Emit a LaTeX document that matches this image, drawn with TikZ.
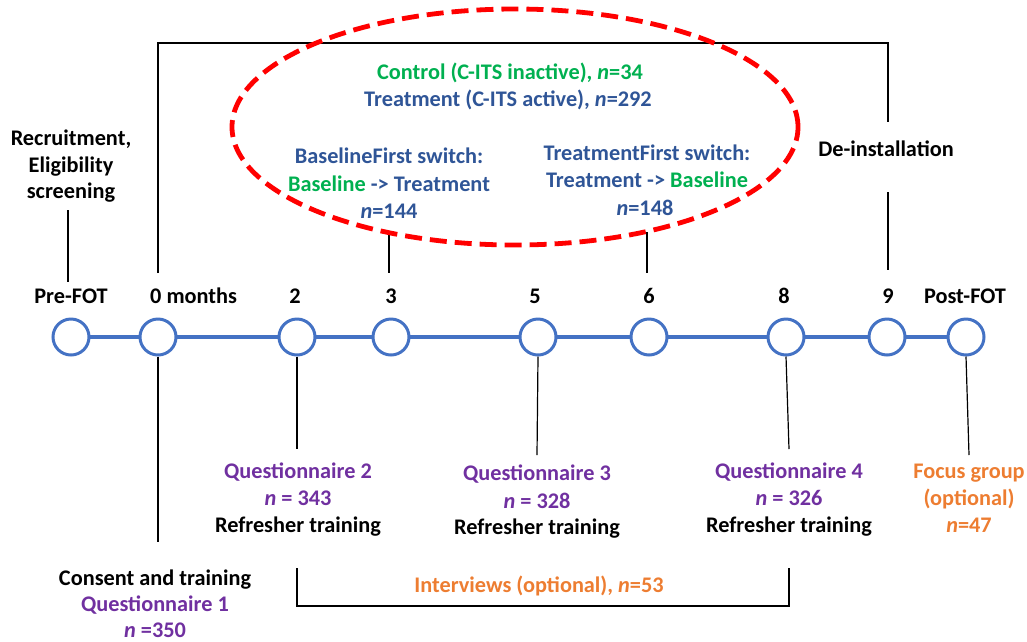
\documentclass[tikz,border=0pt]{standalone}
\usepackage{fontspec}
\setmainfont{Carlito}
\definecolor{tlblue}{HTML}{4472C4}
\definecolor{dkblue}{HTML}{2F5597}
\definecolor{grn}{HTML}{00B050}
\definecolor{purp}{HTML}{7030A0}
\definecolor{orng}{HTML}{ED7D31}
\begin{document}
\begin{tikzpicture}[x=1pt,y=-1pt,
  every node/.style={font=\fontsize{22.3}{27}\selectfont\bfseries},
  t/.style={anchor=base, inner sep=0pt},
  tp/.style={circle, draw=tlblue, line width=3pt, minimum size=36pt, inner sep=0pt, fill=white},
  ln/.style={line width=1.2pt, black},
  tl/.style={tlblue, line width=3.4pt}]
\useasboundingbox (0,0) rectangle (1027,641);

% ---- top bracket
\coordinate (b0) at (158,273);
\coordinate (b1) at (158,43);
\coordinate (b2) at (888,43);
\coordinate (b3) at (888,122);
\coordinate (b4) at (888,192);
\coordinate (b5) at (888,270);
\draw[ln] (b0) -- (b1) -- (b2) -- (b3);
\draw[ln] (b4) -- (b5);

% ---- ticks from switch texts
\coordinate (s3a) at (389,232);
\coordinate (s3b) at (389,273);
\coordinate (s6a) at (647,232);
\coordinate (s6b) at (647,273);
\draw[ln] (s3a) -- (s3b);
\draw[ln] (s6a) -- (s6b);

% ---- recruitment
\node[t] (r1) at (71,145) {Recruitment,};
\node[t] (r2) at (71,172) {Eligibility};
\node[t] (r3) at (71,198) {screening};
\coordinate (ra) at (68,210);
\coordinate (rb) at (68,282);
\draw[ln] (ra) -- (rb);

% ---- dashed ellipse
\draw[red, line width=4.8pt, dash pattern=on 17pt off 8pt] (515,127) ellipse [x radius=283pt, y radius=118pt];

% ---- ellipse texts
\node[t, text=grn] (ctl) at (510,79) {Control (C-ITS inactive), \textit{n}=34};
\node[t, text=dkblue] (trt) at (508,106) {Treatment (C-ITS active), \textit{n}=292};
\node[t, text=dkblue] (bf1) at (389,163) {BaselineFirst switch:};
\node[t, text=dkblue] (bf2) at (389,191) {\textcolor{grn}{Baseline} -> Treatment};
\node[t, text=dkblue] (bf3) at (389,218) {\textit{n}=144};
\node[t, text=dkblue] (tf1) at (647,160) {TreatmentFirst switch:};
\node[t, text=dkblue] (tf2) at (647,187) {Treatment -> \textcolor{grn}{Baseline}};
\node[t, text=dkblue] (tf3) at (645,215) {\textit{n}=148};

\node[t] (deinst) at (886,156) {De-installation};

% ---- timeline
\draw[tl] (60,337) -- (980,337);
\node[tp] (pre) at (71,337) {};
\node[tp] (m0) at (158,337) {};
\node[tp] (m2) at (297,337) {};
\node[tp] (m3) at (391,337) {};
\node[tp] (m5) at (538,337) {};
\node[tp] (m6) at (649,337) {};
\node[tp] (m8) at (786,337) {};
\node[tp] (m9) at (887,337) {};
\node[tp] (post) at (966,337) {};

\node[t] (lpre) at (71,303) {Pre-FOT};
\node[t, anchor=base west] (lm0) at (150,303) {0 months};
\node[t] (lm2) at (295,303) {2};
\node[t] (lm3) at (391,303) {3};
\node[t] (lm5) at (535,303) {5};
\node[t] (lm6) at (649,303) {6};
\node[t] (lm8) at (784,303) {8};
\node[t] (lm9) at (888,303) {9};
\node[t] (lpost) at (965,303) {Post-FOT};

% ---- lower connectors
\coordinate (d0) at (158,542);
\coordinate (d2) at (297,449);
\coordinate (d5) at (537,455);
\coordinate (d8) at (789,449);
\coordinate (dp) at (969,455);
\draw[ln] (m0.south) -- (d0);
\draw[ln] (m2.south) -- (d2);
\draw[ln] (m5.south) -- (d5);
\draw[ln] (m8.south) -- (d8);
\draw[ln] (post.south) -- (dp);

% ---- lower texts
\node[t, text=purp] (q2a) at (298,478) {Questionnaire 2};
\node[t, text=purp] (q2b) at (298,505) {\textit{n} = 343};
\node[t] (q2c) at (298,532) {Refresher training};
\node[t, text=purp] (q3a) at (537,480) {Questionnaire 3};
\node[t, text=purp] (q3b) at (537,508) {\textit{n} = 328};
\node[t] (q3c) at (537,534) {Refresher training};
\node[t, text=purp] (q4a) at (789,478) {Questionnaire 4};
\node[t, text=purp] (q4b) at (789,505) {\textit{n} = 326};
\node[t] (q4c) at (789,532) {Refresher training};
\node[t, text=orng] (fg1) at (969,478) {Focus group};
\node[t, text=orng] (fg2) at (969,505) {(optional)};
\node[t, text=orng] (fg3) at (969,532) {\textit{n}=47};
\node[t] (q1a) at (155,585) {Consent and training};
\node[t, text=purp] (q1b) at (155,611) {Questionnaire 1};
\node[t, text=purp] (q1c) at (155,637) {\textit{n} =350};

% ---- interviews bracket
\coordinate (i0) at (297,568);
\coordinate (i1) at (297,606);
\coordinate (i2) at (789,606);
\coordinate (i3) at (789,568);
\draw[ln] (i0) -- (i1) -- (i2) -- (i3);
\node[t, text=orng] (intv) at (539,592) {Interviews (optional), \textit{n}=53};
\end{tikzpicture}
\end{document}
